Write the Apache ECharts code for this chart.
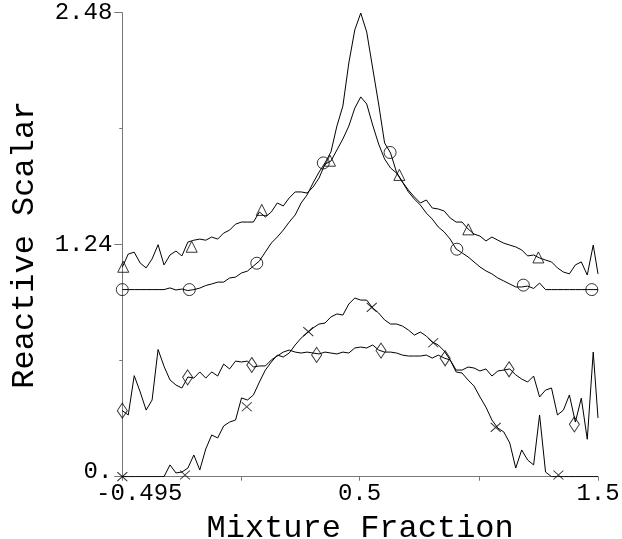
<!DOCTYPE html>
<html>
<head>
<meta charset="utf-8">
<script src="https://cdn.jsdelivr.net/npm/echarts@6/dist/echarts.min.js"></script>
<style>html,body{margin:0;padding:0;background:#fff;}#c{width:622px;height:539px;}</style>
</head>
<body>
<div id="c"></div>
<script>
var xs = [-0.495,-0.47,-0.445,-0.42,-0.395,-0.37,-0.345,-0.32,-0.295,-0.27,-0.245,-0.22,-0.195,-0.17,-0.145,-0.12,-0.095,-0.07,-0.045,-0.02,0.005,0.03,0.055,0.08,0.105,0.13,0.155,0.18,0.205,0.23,0.255,0.28,0.305,0.33,0.355,0.38,0.405,0.43,0.455,0.48,0.505,0.53,0.555,0.58,0.605,0.63,0.655,0.68,0.705,0.73,0.755,0.78,0.805,0.83,0.855,0.88,0.905,0.93,0.955,0.98,1.005,1.03,1.055,1.08,1.105,1.13,1.155,1.18,1.205,1.23,1.255,1.28,1.305,1.33,1.355,1.38,1.405,1.43,1.455,1.48,1.5];

var circleY = [1.0,1.0,1.0,1.0,1.0,1.0,1.0,1.0,1.009,0.998,1.003,0.995,1.0,1.008,1.022,1.03,1.04,1.04,1.062,1.067,1.089,1.099,1.126,1.153,1.201,1.249,1.281,1.318,1.361,1.399,1.463,1.506,1.57,1.628,1.677,1.736,1.874,1.981,2.211,2.388,2.478,2.377,2.184,1.992,1.784,1.73,1.628,1.575,1.522,1.484,1.452,1.409,1.377,1.335,1.308,1.27,1.217,1.196,1.175,1.148,1.121,1.1,1.084,1.062,1.046,1.03,1.014,1.014,1.019,1.006,1.035,1.0,1.0,1.0,1.0,1.0,1.0,1.0,1.0,1.0,1.0];

var triY = [1.12,1.19,1.2,1.142,1.116,1.164,1.24,1.132,1.185,1.206,1.18,1.254,1.264,1.27,1.264,1.281,1.27,1.302,1.318,1.35,1.361,1.361,1.361,1.415,1.388,1.415,1.463,1.447,1.49,1.522,1.522,1.516,1.548,1.596,1.671,1.687,1.746,1.805,1.874,1.97,2.03,1.992,1.88,1.778,1.698,1.65,1.623,1.575,1.532,1.495,1.463,1.479,1.436,1.431,1.42,1.383,1.361,1.361,1.324,1.297,1.286,1.26,1.281,1.264,1.248,1.238,1.228,1.212,1.18,1.185,1.169,1.158,1.148,1.116,1.094,1.084,1.132,1.148,1.078,1.238,1.084];

var diamondY = [0.353,0.33,0.54,0.453,0.356,0.41,0.68,0.59,0.517,0.49,0.474,0.533,0.527,0.56,0.527,0.56,0.538,0.602,0.576,0.618,0.613,0.618,0.586,0.592,0.592,0.624,0.645,0.666,0.677,0.666,0.661,0.666,0.661,0.656,0.666,0.661,0.656,0.666,0.661,0.688,0.693,0.688,0.704,0.677,0.666,0.666,0.661,0.65,0.645,0.645,0.645,0.65,0.634,0.65,0.634,0.624,0.57,0.57,0.586,0.581,0.565,0.576,0.538,0.565,0.57,0.576,0.544,0.522,0.506,0.538,0.426,0.463,0.474,0.33,0.356,0.437,0.292,0.42,0.2,0.666,0.314];

var crossY = [0,0,0,0,0,0,0,0,0.063,0.02,0.025,0.046,0.116,0.036,0.148,0.223,0.207,0.271,0.292,0.303,0.421,0.41,0.437,0.506,0.57,0.613,0.65,0.64,0.661,0.704,0.741,0.768,0.795,0.816,0.821,0.854,0.87,0.864,0.923,0.955,0.944,0.944,0.902,0.875,0.838,0.816,0.816,0.805,0.784,0.757,0.773,0.752,0.72,0.704,0.672,0.624,0.56,0.554,0.517,0.485,0.426,0.372,0.303,0.26,0.239,0.18,0.046,0.143,0.089,0.063,0.33,0.025,0,0,0,0,0,0,0,0,0];

var circleMarkX = [-0.495,-0.214,0.069,0.348,0.628,0.908,1.187,1.474];
var circleMarkY = [1.0,1.0,1.141,1.677,1.733,1.216,1.024,1.0];
var triMarkX = [-0.491,-0.204,0.09,0.376,0.667,0.956,1.25];
var triMarkY = [1.122,1.229,1.426,1.689,1.613,1.322,1.172];
var diamondMarkX = [-0.495,-0.221,0.048,0.32,0.59,0.859,1.127,1.401];
var diamondMarkY = [0.353,0.531,0.597,0.651,0.674,0.633,0.574,0.28];
var crossMarkX = [-0.495,-0.232,0.027,0.285,0.551,0.809,1.071,1.334];
var crossMarkY = [0,0.009,0.374,0.775,0.905,0.716,0.264,0.009];

var xTickValues = [-0.495,0.0025,0.5,1.0,1.5];
var xLabelValues = [-0.495,0.5,1.5];
var xLabelText = ['-0.495','0.5','1.5'];
var yLabelText = ['0.','1.24','2.48'];

function zip(a, b) { return a.map(function (v, i) { return [v, b[i]]; }); }

var FONT = 'Liberation Mono';
var AX = '#777';

function lineSeries(ys) {
  return { type: 'line', data: zip(xs, ys), showSymbol: false, symbol: 'none',
    lineStyle: { color: '#000', width: 1 }, animation: false, z: 3 };
}
function markSeries(mx, my, symbol, size) {
  return { type: 'scatter', data: zip(mx, my), symbol: symbol, symbolSize: size,
    itemStyle: { color: 'rgba(0,0,0,0)', borderColor: '#000', borderWidth: 1 },
    clip: false, animation: false, z: 4, silent: true };
}

var chart = echarts.init(document.getElementById('c'), null, { renderer: 'canvas' });
chart.setOption({
  backgroundColor: '#fff',
  animation: false,
  grid: { left: 122.3, right: 24, top: 12.7, bottom: 62.3, containLabel: false, outerBoundsMode: 'none' },
  xAxis: {
    type: 'value', min: -0.495, max: 1.5,
    name: 'Mixture Fraction', nameLocation: 'middle', nameGap: 36,
    nameTextStyle: { fontFamily: FONT, fontSize: 32, color: '#000' },
    axisLine: { show: true, onZero: false, lineStyle: { color: AX, width: 1 } },
    axisTick: { show: true, length: 4, customValues: xTickValues, lineStyle: { color: AX } },
    axisLabel: {
      customValues: xLabelValues, margin: 5,
      fontFamily: FONT, fontSize: 24, color: '#000',
      formatter: function (v) {
        for (var i = 0; i < xLabelValues.length; i++) {
          if (Math.abs(v - xLabelValues[i]) < 1e-6) {
            return i === 0 ? '{m|' + xLabelText[i] + '}' : xLabelText[i];
          }
        }
        return '';
      },
      rich: { m: { fontFamily: FONT, fontSize: 24, color: '#000', padding: [0, 0, 0, 34] } }
    },
    splitLine: { show: false }
  },
  yAxis: {
    type: 'value', min: 0, max: 2.48, interval: 1.24,
    name: 'Reactive Scalar', nameLocation: 'middle', nameGap: 82,
    nameTextStyle: { fontFamily: FONT, fontSize: 32, color: '#000' },
    axisLine: { show: true, onZero: false, lineStyle: { color: AX, width: 1 } },
    axisTick: { show: true, length: 8, lineStyle: { color: AX } },
    minorTick: { show: true, splitNumber: 2, length: 3, lineStyle: { color: AX } },
    axisLabel: {
      margin: 10, fontFamily: FONT, fontSize: 24, color: '#000',
      formatter: function (v) {
        var i = Math.round(v / 1.24);
        return i === 0 ? '{z|' + yLabelText[0] + '}' : yLabelText[i];
      },
      rich: { z: { fontFamily: FONT, fontSize: 24, color: '#000', padding: [0, 0, 10, 0] } }
    },
    splitLine: { show: false }, minorSplitLine: { show: false }
  },
  series: [
    lineSeries(circleY),
    lineSeries(triY),
    lineSeries(diamondY),
    lineSeries(crossY),
    markSeries(circleMarkX, circleMarkY, 'circle', 12),
    markSeries(triMarkX, triMarkY, 'triangle', 11),
    markSeries(diamondMarkX, diamondMarkY, 'diamond', [10, 15]),
    markSeries(crossMarkX, crossMarkY, 'path://M0,0L10,10M10,0L0,10', [10, 9])
  ]
});
</script>
</body>
</html>
